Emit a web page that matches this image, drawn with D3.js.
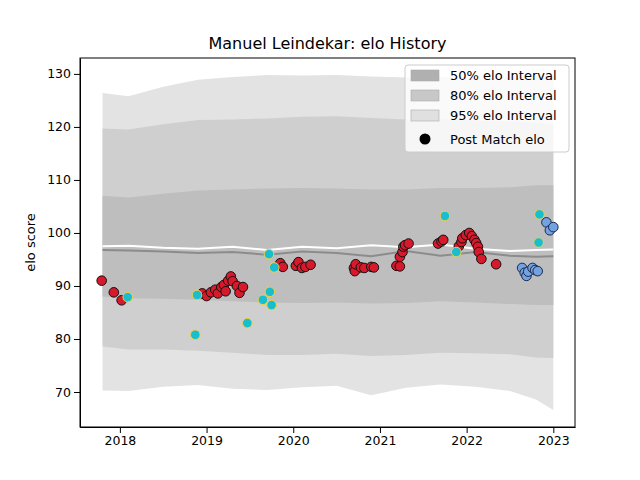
<!DOCTYPE html>
<html><head><meta charset="utf-8">
<script src="https://cdn.jsdelivr.net/npm/d3@7"></script>
<style>body{margin:0;background:#fff}text{font-family:"DejaVu Sans",sans-serif}</style>
</head><body><svg id="c" width="640" height="480"></svg>
<script>
const bandT = [2017.8, 2018.1, 2018.5, 2018.9, 2019.3, 2019.7, 2020.1, 2020.5, 2020.9, 2021.3, 2021.7, 2022.1, 2022.5, 2022.8, 2023.0];
const up95 = [126.4, 125.8, 127.6, 128.9, 129.4, 129.8, 129.7, 129.8, 129.5, 129.3, 129.4, 129.0, 129.4, 129.7, 129.6];
const lo95 = [70.3, 70.2, 71.0, 71.3, 70.6, 70.4, 70.9, 71.2, 69.4, 70.8, 71.4, 71.0, 70.2, 68.6, 66.6];
const up80 = [119.7, 119.5, 120.5, 121.3, 121.4, 121.6, 121.9, 122.0, 121.7, 121.4, 121.5, 121.2, 121.0, 120.8, 120.3];
const lo80 = [78.6, 78.0, 78.0, 77.8, 77.4, 77.0, 77.0, 77.2, 76.8, 77.0, 77.4, 77.3, 77.1, 76.5, 76.4];
const up50 = [107.0, 106.7, 107.4, 108.0, 108.2, 108.4, 108.5, 108.4, 108.2, 108.2, 108.5, 108.5, 108.6, 109.0, 109.0];
const lo50 = [88.0, 87.7, 87.6, 87.4, 87.1, 86.9, 86.8, 86.9, 86.7, 86.8, 87.1, 86.9, 86.6, 86.4, 86.4];
const meanW = [97.5, 97.6, 97.2, 97.0, 97.4, 96.8, 97.4, 97.1, 97.7, 97.3, 97.8, 97.0, 96.6, 96.8, 96.9];
const meanG = [96.8, 96.7, 96.5, 96.2, 96.4, 95.9, 96.5, 96.2, 95.6, 96.6, 95.7, 96.4, 95.7, 95.5, 95.6];

const redT = [2017.79, 2017.93, 2018.02, 2018.95, 2019.0, 2019.05, 2019.1, 2019.13, 2019.17, 2019.2, 2019.22, 2019.25, 2019.28, 2019.3, 2019.35, 2019.38, 2019.42,
  2019.85, 2019.88, 2020.03, 2020.06, 2020.1, 2020.14, 2020.2, 2020.7, 2020.71, 2020.72, 2020.78, 2020.82, 2020.9, 2020.93,
  2021.19, 2021.23, 2021.23, 2021.26, 2021.27, 2021.29, 2021.33, 2021.67, 2021.71, 2021.73,
  2021.91, 2021.94, 2021.95, 2021.99, 2022.03, 2022.06, 2022.09, 2022.11, 2022.13, 2022.14, 2022.17, 2022.34];
const redV = [91.0, 88.8, 87.3, 88.6, 88.1, 88.8, 89.3, 88.6, 89.8, 90.2, 89.0, 91.0, 91.8, 90.9, 90.0, 88.7, 89.8,
  94.3, 93.6, 93.8, 94.5, 93.4, 93.6, 94.0, 93.4, 92.8, 94.1, 93.5, 93.4, 93.6, 93.5,
  93.8, 93.7, 95.5, 96.4, 97.4, 97.7, 98.0, 98.0, 98.4, 98.7,
  97.5, 98.3, 99.0, 99.6, 100.0, 99.4, 98.7, 98.1, 97.4, 96.4, 95.1, 94.1];
const cyanT = [2018.09, 2018.87, 2018.89, 2019.47, 2019.65, 2019.73, 2019.75, 2019.72, 2019.78, 2021.75, 2021.88, 2022.83, 2022.84];
const cyanV = [87.9, 80.8, 88.3, 83.0, 87.4, 88.9, 86.4, 96.0, 93.5, 103.2, 96.4, 98.2, 103.5];
const blueT = [2022.64, 2022.67, 2022.69, 2022.71, 2022.76, 2022.79, 2022.82, 2022.92, 2022.96, 2023.0];
const blueV = [93.4, 92.5, 91.9, 92.7, 93.4, 93.0, 92.8, 102.0, 100.5, 101.1];

const svg = d3.select("#c");
const m = {l: 80, r: 65, t: 58, b: 53};
const W = 640 - m.l - m.r, H = 480 - m.t - m.b;
const x = d3.scaleLinear().domain([2017.54, 2023.25]).range([m.l, m.l + W]);
const y = d3.scaleLinear().domain([63.4, 133.0]).range([m.t + H, m.t]);

function band(hi, lo, fill) {
  const a = d3.area().x((d, i) => x(bandT[i])).y0((d, i) => y(lo[i])).y1((d, i) => y(hi[i]));
  svg.append("path").attr("d", a(bandT)).attr("fill", fill);
}
band(up95, lo95, "#e3e3e3");
band(up80, lo80, "#cfcfcf");
band(up50, lo50, "#bebebe");

const ln = v => d3.line().x((d, i) => x(bandT[i])).y((d, i) => y(v[i]))(bandT);
svg.append("path").attr("d", ln(meanG)).attr("fill", "none").attr("stroke", "#8c8c8c").attr("stroke-width", 2);
svg.append("path").attr("d", ln(meanW)).attr("fill", "none").attr("stroke", "#fff").attr("stroke-width", 2);

function pts(T, V, fill, stroke) {
  svg.append("g").selectAll("circle").data(T).join("circle")
    .attr("cx", d => x(d)).attr("cy", (d, i) => y(V[i])).attr("r", 4.8)
    .attr("fill", fill).attr("stroke", stroke).attr("stroke-width", 1);
}
pts(redT, redV, "#d7192c", "#111");
pts(cyanT, cyanV, "#17becf", "#f2d04a");
pts(blueT, blueV, "#74a2e0", "#1b2a4a");

svg.append("g").attr("transform", `translate(0,${m.t + H})`)
  .call(d3.axisBottom(x).tickValues([2018, 2019, 2020, 2021, 2022, 2023]).tickFormat(d3.format("d")).tickSizeOuter(0))
  .call(g => g.selectAll("text").attr("font-size", 12.5).attr("fill", "#000"));
svg.append("g").attr("transform", `translate(${m.l},0)`)
  .call(d3.axisLeft(y).tickValues([70, 80, 90, 100, 110, 120, 130]).tickSizeOuter(0))
  .call(g => g.selectAll("text").attr("font-size", 12.5).attr("fill", "#000"));
svg.append("rect").attr("x", m.l).attr("y", m.t).attr("width", W).attr("height", H)
  .attr("fill", "none").attr("stroke", "#000").attr("stroke-width", 1);

svg.append("text").attr("x", m.l + W / 2).attr("y", 49).attr("text-anchor", "middle")
  .attr("font-size", 16).text("Manuel Leindekar: elo History");
svg.append("text").attr("transform", `translate(35,${m.t + H / 2}) rotate(-90)`).attr("text-anchor", "middle")
  .attr("font-size", 13).text("elo score");

const lg = svg.append("g").attr("transform", "translate(405,65)");
lg.append("rect").attr("width", 164).attr("height", 87).attr("rx", 3).attr("fill", "#fff").attr("fill-opacity", 0.8).attr("stroke", "#ccc");
const items = [["50% elo Interval", "#b0b0b0"], ["80% elo Interval", "#c8c8c8"], ["95% elo Interval", "#e0e0e0"]];
items.forEach((it, i) => {
  lg.append("rect").attr("x", 6).attr("y", 5 + i * 20).attr("width", 28).attr("height", 11).attr("fill", it[1]).attr("stroke", "#aaa").attr("stroke-width", 0.6);
  lg.append("text").attr("x", 45).attr("y", 15 + i * 20).attr("font-size", 13).text(it[0]);
});
lg.append("circle").attr("cx", 20).attr("cy", 74).attr("r", 5.5).attr("fill", "#000");
lg.append("text").attr("x", 45).attr("y", 79).attr("font-size", 13).text("Post Match elo");
</script></body></html>
